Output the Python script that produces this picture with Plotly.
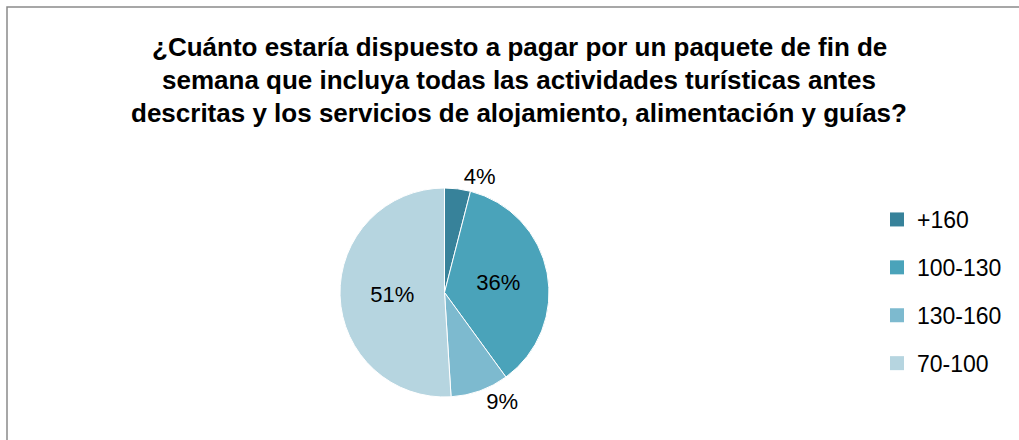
import plotly.graph_objects as go

categories = ["+160", "100-130", "130-160", "70-100"]
values = [4, 36, 9, 51]
colors = ["#37829A", "#4AA3BA", "#7DBACF", "#B6D5E0"]
text_positions = ["outside", "inside", "outside", "inside"]
title_lines = [
    "¿Cuánto estaría dispuesto a pagar por un paquete de fin de",
    "semana que incluya todas las actividades turísticas antes",
    "descritas y los servicios de alojamiento, alimentación y guías?",
]

W, H = 1019, 440
cx, cy, r = 444.5, 292.5, 104.5

fig = go.Figure()
fig.add_trace(go.Pie(
    labels=categories, values=values, sort=False, direction="clockwise", rotation=0,
    marker=dict(colors=colors, line=dict(color="white", width=1)),
    textinfo="percent", textposition=text_positions,
    textfont=dict(size=22, color="black", family="Liberation Sans"),
    insidetextorientation="horizontal",
    showlegend=False, hoverinfo="label+percent",
    domain=dict(x=[(cx - r) / W, (cx + r) / W], y=[1 - (cy + r) / H, 1 - (cy - r) / H]),
))

for i, (c, col) in enumerate(zip(categories, colors)):
    fig.add_trace(go.Scatter(
        x=[None], y=[None], mode="markers", name=c, legendgroup=f"g{i}",
        marker=dict(symbol="square", size=14, color=col), showlegend=True,
    ))

annotations = []
for i, line in enumerate(title_lines):
    annotations.append(dict(
        text=line, xref="paper", yref="paper", x=519 / W, y=1 - (47 + 33 * i) / H,
        xanchor="center", yanchor="middle", showarrow=False,
        font=dict(size=26, family="Liberation Sans", color="black", weight="bold"),
    ))

fig.update_layout(
    width=W, height=H,
    margin=dict(l=0, r=0, t=0, b=0),
    paper_bgcolor="white", plot_bgcolor="white",
    font=dict(family="Liberation Sans", color="black"),
    xaxis=dict(visible=False), yaxis=dict(visible=False),
    annotations=annotations,
    legend=dict(x=877 / W, xanchor="left", y=1 - 198 / H, yanchor="top",
                font=dict(size=23, color="black"), tracegroupgap=15,
                itemwidth=30, bgcolor="rgba(0,0,0,0)"),
    shapes=[dict(type="rect", xref="paper", yref="paper",
                 x0=7 / W, x1=1.05, y0=-0.05, y1=1 - 7 / H,
                 line=dict(color="#8a8a8a", width=1.5), fillcolor="rgba(0,0,0,0)")],
)

fig.write_html("out.html", config={"displayModeBar": False},
               post_script="document.body.style.margin='0px';")
